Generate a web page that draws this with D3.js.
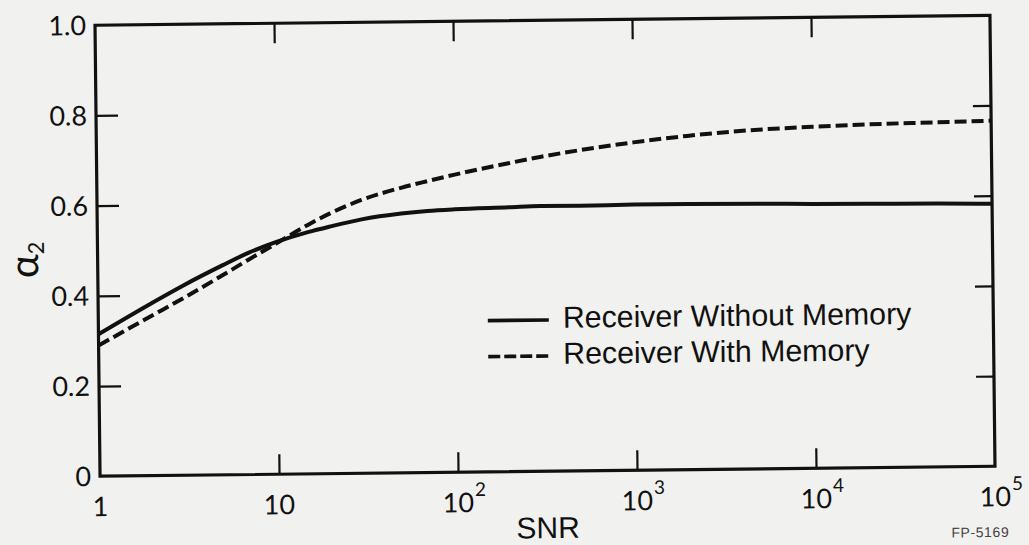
<!DOCTYPE html>
<html>
<head>
<meta charset="utf-8">
<script src="https://cdn.jsdelivr.net/npm/d3@7"></script>
<style>
  body { margin: 0; background: #f1f1ef; }
  svg { display: block; }
</style>
</head>
<body>
<div id="chart"></div>
<script>
// values
const snr = [1, 2, 3, 5, 7, 10, 15, 20, 30, 50, 70, 100, 200, 300, 500, 1000, 2000, 5000, 1e4, 2e4, 5e4, 1e5];
const withoutMemory = [0.315, 0.383, 0.421, 0.465, 0.492, 0.515, 0.536, 0.548, 0.563, 0.575, 0.580, 0.583, 0.586, 0.588, 0.588, 0.589, 0.589, 0.588, 0.586, 0.585, 0.584, 0.582];
const withMemory = [0.29, 0.355, 0.393, 0.443, 0.477, 0.512, 0.552, 0.577, 0.606, 0.632, 0.646, 0.660, 0.684, 0.697, 0.711, 0.727, 0.740, 0.752, 0.757, 0.761, 0.764, 0.766];
const xTickExps = [0, 1, 2, 3, 4, 5];
const yTicks = [0, 0.2, 0.4, 0.6, 0.8, 1.0];
const yTickLabels = ['0', '0.2', '0.4', '0.6', '0.8', '1.0'];
const seriesNames = ['Receiver Without Memory', 'Receiver With Memory'];

const W = 1029, H = 545;
const PLOT = { left: 97.5, right: 992.5, top: 20.25, bottom: 471.25 };
const INK = '#111';
const tickFont = 'Lato, "Open Sans", sans-serif';
const textFont = '"Liberation Sans", Arial, sans-serif';

const svg = d3.select('#chart').append('svg')
  .attr('width', W).attr('height', H)
  .attr('viewBox', `0 0 ${W} ${H}`);

svg.append('rect').attr('width', W).attr('height', H).attr('fill', '#f1f1ef');

// the scan is tilted slightly, so the whole figure is turned a little
const cx = (PLOT.left + PLOT.right) / 2, cy = (PLOT.top + PLOT.bottom) / 2;
const root = svg.append('g').attr('transform', `rotate(-0.64,${cx},${cy})`);

const x = d3.scaleLog().domain([1, 1e5]).range([PLOT.left, PLOT.right]);
const y = d3.scaleLinear().domain([0, 1]).range([PLOT.bottom, PLOT.top]);

const innerX = [10, 100, 1000, 1e4];
const innerY = [0.2, 0.4, 0.6, 0.8];

function styleAxis(g) {
  g.select('.domain').remove();
  g.selectAll('line').attr('stroke', INK).attr('stroke-width', 2.2);
}

root.append('g').attr('transform', `translate(0,${PLOT.bottom})`)
  .call(d3.axisBottom(x).tickValues(innerX).tickSize(-20).tickFormat(''))
  .call(styleAxis);
root.append('g').attr('transform', `translate(0,${PLOT.top})`)
  .call(d3.axisTop(x).tickValues(innerX).tickSize(-20).tickFormat(''))
  .call(styleAxis);
root.append('g').attr('transform', `translate(${PLOT.left},0)`)
  .call(d3.axisLeft(y).tickValues(innerY).tickSize(-22).tickFormat(''))
  .call(styleAxis);
root.append('g').attr('transform', `translate(${PLOT.right},0)`)
  .call(d3.axisRight(y).tickValues(innerY).tickSize(-18).tickFormat(''))
  .call(styleAxis);

root.append('rect')
  .attr('x', PLOT.left).attr('y', PLOT.top)
  .attr('width', PLOT.right - PLOT.left).attr('height', PLOT.bottom - PLOT.top)
  .attr('fill', 'none').attr('stroke', INK).attr('stroke-width', 3.2);

// y tick labels
root.append('g').selectAll('text').data(yTicks).join('text')
  .attr('x', PLOT.left - 9)
  .attr('y', (d) => y(d))
  .attr('dy', '0.36em')
  .attr('text-anchor', 'end')
  .attr('font-family', tickFont)
  .attr('font-size', 27)
  .attr('fill', INK)
  .text((d, i) => yTickLabels[i]);

// x tick labels: 1, 10, 10^2 ...
const xLab = root.append('g');
xTickExps.forEach((e) => {
  const px = x(Math.pow(10, e));
  const base = xLab.append('text')
    .attr('x', px).attr('y', PLOT.bottom + 40)
    .attr('text-anchor', 'middle')
    .attr('font-family', tickFont)
    .attr('font-size', 27)
    .attr('fill', INK)
    .text(e === 0 ? '1' : '10');
  if (e >= 2) {
    const half = base.node().getComputedTextLength() / 2;
    xLab.append('text')
      .attr('x', px + half + 1).attr('y', PLOT.bottom + 24)
      .attr('font-family', tickFont)
      .attr('font-size', 19)
      .attr('fill', INK)
      .text(String(e));
  }
});

// axis titles
root.append('text')
  .attr('x', cx).attr('y', PLOT.bottom + 67)
  .attr('text-anchor', 'middle')
  .attr('font-family', textFont)
  .attr('font-size', 30)
  .attr('fill', INK)
  .text('SNR');

const yTitle = root.append('text')
  .attr('transform', 'translate(38,254) rotate(-90)')
  .attr('text-anchor', 'middle')
  .attr('font-family', tickFont)
  .attr('font-size', 40)
  .attr('fill', INK);
yTitle.append('tspan').text('α');
yTitle.append('tspan').attr('font-size', 22).attr('dy', 6).text('2');

// curves
const line = d3.line()
  .x((d) => x(d[0]))
  .y((d) => y(d[1]))
  .curve(d3.curveMonotoneX);

const series = [
  { name: seriesNames[0], values: withoutMemory, dash: null },
  { name: seriesNames[1], values: withMemory, dash: '12,5' }
];

root.append('g').selectAll('path').data(series).join('path')
  .attr('d', (s) => line(snr.map((v, i) => [v, s.values[i]])))
  .attr('fill', 'none')
  .attr('stroke', INK)
  .attr('stroke-width', 4)
  .attr('stroke-dasharray', (s) => s.dash);

// legend
const legend = root.append('g').attr('transform', 'translate(487,320)');
series.forEach((s, i) => {
  const row = legend.append('g').attr('transform', `translate(0,${i * 36})`);
  row.append('line')
    .attr('x1', 0).attr('x2', 61).attr('y1', 0).attr('y2', 0)
    .attr('stroke', INK).attr('stroke-width', 3.6)
    .attr('stroke-dasharray', s.dash ? '12,4' : null);
  row.append('text')
    .attr('x', 75).attr('y', 8)
    .attr('font-family', textFont)
    .attr('font-size', 30.3)
    .attr('fill', INK)
    .text(s.name);
});

// plate number
root.append('text')
  .attr('x', 1006).attr('y', 542)
  .attr('text-anchor', 'end')
  .attr('font-family', textFont)
  .attr('font-size', 14)
  .attr('letter-spacing', 0.6)
  .attr('fill', '#444')
  .text('FP-5169');
</script>
</body>
</html>
